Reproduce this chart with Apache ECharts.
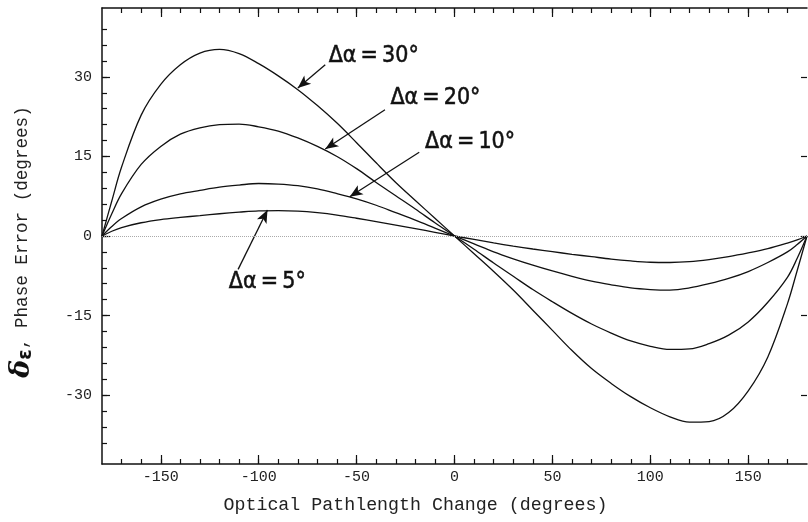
<!DOCTYPE html>
<html>
<head>
<meta charset="utf-8">
<script src="https://cdn.jsdelivr.net/npm/echarts@6/dist/echarts.min.js"></script>
<style>
html, body { margin: 0; padding: 0; background: #fff; }
#chart { width: 808px; height: 522px; }
</style>
</head>
<body>
<div id="chart"></div>
<script>
// optical pathlength change (deg)
var phase = [-180,-175,-170,-160,-150,-140,-130,-120,-110,-100,-90,-80,-70,-60,-50,-40,-30,-20,-10,0,
	10,20,30,40,50,60,70,80,90,100,110,120,130,140,150,160,170,175,180];

// phase error (deg), one list per misalignment
var err30 = [0,6.6,13,22.8,28.6,32.3,34.5,35.2,34.4,32.5,30.2,27.6,24.6,21.3,17.6,13.8,10.1,6.7,3.35,0,
	-3.35,-6.7,-10.2,-14.0,-17.8,-21.6,-25.0,-27.8,-30.3,-32.4,-34.1,-35.1,-35.0,-33.3,-29.2,-22.8,-12.8,-6.5,0];
var err20 = [0,4.2,8,13.5,16.9,19.2,20.4,21.0,21.1,20.6,19.8,18.5,16.9,15.0,12.7,10.1,7.6,5.1,2.5,0,
	-2.5,-5.1,-7.6,-10.1,-12.4,-14.6,-16.6,-18.3,-19.8,-20.8,-21.4,-21.3,-20.3,-18.7,-16.2,-12.5,-7.8,-4.2,0];
var err10 = [0,1.8,3.3,5.5,6.95,7.95,8.6,9.2,9.6,9.9,9.8,9.5,8.9,8.0,7.0,5.8,4.4,3.0,1.5,0,
	-1.5,-3.0,-4.3,-5.5,-6.6,-7.6,-8.5,-9.2,-9.8,-10.1,-10.2,-9.8,-9.0,-8.0,-6.7,-5.0,-3.0,-1.6,0];
var err5 = [0,0.9,1.6,2.5,3.1,3.5,3.85,4.2,4.5,4.75,4.8,4.7,4.4,3.95,3.35,2.7,2.05,1.38,0.7,0,
	-0.65,-1.3,-1.9,-2.45,-2.95,-3.45,-3.9,-4.35,-4.7,-4.95,-5.0,-4.85,-4.45,-3.9,-3.2,-2.4,-1.35,-0.75,0];

var curveNames = ['Δα\u2009=\u200930°', 'Δα\u2009=\u200920°', 'Δα\u2009=\u200910°', 'Δα\u2009=\u20095°'];

// tick labels
var xLabels = [-150,-100,-50,0,50,100,150];
var yLabels = [-30,-15,0,15,30];

var xMinor = [];
for (var v = -170; v <= 170; v += 10) xMinor.push(v);
var yMinor = [];
for (var w = -39; w <= 39; w += 3) yMinor.push(w);

// annotation anchors [text x, text y, arrow tail x, tail y, tip x, tip y]
var notes = [
	[-64.5, 34.0, -66, 32.3, -80, 27.9],
	[-33, 26.0, -35.5, 23.8, -66, 16.4],
	[-15.3, 17.8, -18, 15.8, -53.5, 7.4],
	[-115.5, -8.7, -110.5, -6.3, -95.5, 4.9]
];

var axisColor = '#111';
var monoFont = '"Liberation Mono", "DejaVu Sans Mono", monospace';
var noteFont = '"DejaVu Sans Condensed", "Liberation Sans Narrow", sans-serif';

var myChart = echarts.init(document.getElementById('chart'), null, {renderer: 'canvas'});

function pairs(ys) {
	var out = [];
	for (var i = 0; i < phase.length; i++) out.push([phase[i], ys[i]]);
	return out;
}

function xAx(pos, ticks, len, line, labels) {
	return {
		type: 'value', position: pos, min: -180, max: 180,
		axisLine: {show: line, onZero: false, lineStyle: {color: axisColor, width: 1.5}},
		axisTick: {show: true, inside: true, length: len, customValues: ticks, lineStyle: {color: axisColor, width: 1.2}},
		axisLabel: labels ? {show: true, customValues: xLabels, margin: 6, color: '#222', fontFamily: monoFont, fontSize: 15} : {show: false},
		splitLine: {show: false}
	};
}
function yAx(pos, ticks, len, line, labels) {
	return {
		type: 'value', position: pos, min: -43, max: 43,
		axisLine: {show: line, onZero: false, lineStyle: {color: axisColor, width: 1.5}},
		axisTick: {show: true, inside: true, length: len, customValues: ticks, lineStyle: {color: axisColor, width: 1.2}},
		axisLabel: labels ? {show: true, customValues: yLabels, margin: 10, color: '#222', fontFamily: monoFont, fontSize: 15} : {show: false},
		splitLine: {show: false}
	};
}

var xAxes = [
	xAx('bottom', xMinor, 5, true, true),
	xAx('bottom', xLabels, 9, false, false),
	xAx('top', xMinor, 5, true, false),
	xAx('top', xLabels, 9, false, false)
];
xAxes[0].name = 'Optical Pathlength Change (degrees)';
xAxes[0].nameLocation = 'middle';
xAxes[0].nameGap = 32;
xAxes[0].nameTextStyle = {fontFamily: monoFont, fontSize: 18.3, color: '#222', padding: [0, 78, 0, 0]};

var yAxes = [
	yAx('left', yMinor, 5, true, true),
	yAx('left', yLabels, 8, false, false),
	yAx('right', yLabels, 6, false, false)
];
yAxes[0].name = '{d|δ}{e|ε}{n|, Phase Error (degrees)}';
yAxes[0].nameLocation = 'middle';
yAxes[0].nameGap = 66;
yAxes[0].nameRotate = 90;
yAxes[0].nameTextStyle = {
	color: '#222',
	padding: [0, 12, 0, 0],
	rich: {
		d: {fontFamily: 'DejaVu Serif, serif', fontWeight: 'bold', fontStyle: 'italic', fontSize: 27, color: '#111'},
		e: {fontFamily: 'DejaVu Sans, sans-serif', fontWeight: 'bold', fontSize: 19, color: '#111', padding: [9, 0, 0, 0]},
		n: {fontFamily: monoFont, fontSize: 17.6, color: '#222'}
	}
};

var allErr = [err30, err20, err10, err5];
var series = [];
for (var k = 0; k < allErr.length; k++) {
	var n = notes[k];
	var lines = [[
		{coord: [n[2], n[3]], symbol: 'none'},
		{coord: [n[4], n[5]], symbol: 'arrow', symbolSize: [8, 13]}
	]];
	if (k === 3) {
		lines.push([
			{coord: [-180, 0], symbol: 'none', lineStyle: {type: 'dotted', color: '#aaa', width: 1}},
			{coord: [180, 0], symbol: 'none'}
		]);
	}
	series.push({
		name: curveNames[k],
		type: 'line',
		xAxisIndex: 0,
		yAxisIndex: 0,
		data: pairs(allErr[k]),
		smooth: 0.35,
		showSymbol: false,
		lineStyle: {color: '#111', width: 1.3},
		itemStyle: {color: '#111'},
		z: 3,
		markLine: {
			silent: true,
			animation: false,
			symbol: ['none', 'arrow'],
			label: {show: false},
			lineStyle: {color: '#111', width: 1.3, type: 'solid'},
			emphasis: {disabled: true},
			data: lines
		},
		markPoint: {
			silent: true,
			animation: false,
			symbol: 'circle',
			symbolSize: 1,
			itemStyle: {color: 'rgba(0,0,0,0)'},
			label: {
				show: true, position: 'right', distance: 0,
				formatter: '{b}',
				fontFamily: noteFont, fontSize: 23, color: '#111',
				textBorderColor: '#111', textBorderWidth: 0.5
			},
			data: [{name: curveNames[k], coord: [n[0], n[1]]}]
		}
	});
}

var option = {
	animation: false,
	backgroundColor: '#fff',
	grid: {left: 102, top: 8, width: 705, height: 456, containLabel: false, outerBoundsMode: 'none'},
	xAxis: xAxes,
	yAxis: yAxes,
	series: series
};

myChart.setOption(option);
</script>
</body>
</html>
